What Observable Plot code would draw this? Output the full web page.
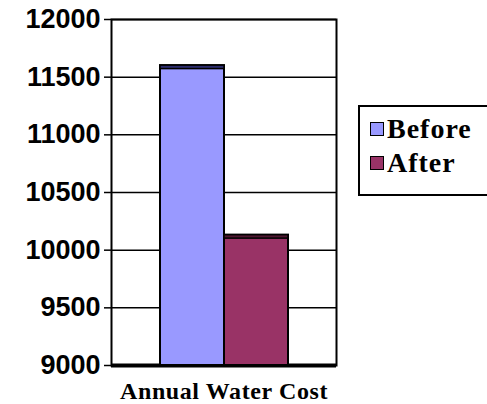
<!DOCTYPE html>
<html>
<head>
<meta charset="utf-8">
<script src="https://cdn.jsdelivr.net/npm/d3@7"></script>
<script src="https://cdn.jsdelivr.net/npm/@observablehq/plot@0.6"></script>
<style>
  html, body { margin: 0; padding: 0; background: #fff; }
  #wrap { position: relative; width: 487px; height: 404px; overflow: hidden; }
  #legend { position: absolute; left: 358px; top: 105px; width: 140px; height: 87px;
    border: 2px solid #000; background: #fff; box-sizing: content-box;
    font-family: "Liberation Serif", "Times New Roman", serif; font-weight: bold; font-size: 28px; letter-spacing: 1px; }
  .item { position: absolute; left: 10px; display: flex; align-items: center; white-space: nowrap; }
  .sw { width: 12px; height: 12px; border: 1.5px solid #000; margin-right: 3px; }
</style>
</head>
<body>
<div id="wrap"><div id="chart"></div><div id="legend"></div></div>
<script>
const category = "Annual Water Cost";
const series = ["Before", "After"];
const values = [11600, 10130];
const colors = ["#9999FF", "#993366"];
const topColors = ["#2c2c6e", "#4e1731"];
const yTicks = [9000, 9500, 10000, 10500, 11000, 11500, 12000];

const data = series.map((s, i) => ({series: s, value: values[i]}));
const yMin = yTicks[0], yMax = yTicks[yTicks.length - 1];
const depth = 30;

const plot = Plot.plot({
  width: 487,
  height: 404,
  marginLeft: 111,
  marginRight: 151,
  marginTop: 19,
  marginBottom: 39,
  style: {fontFamily: "'Liberation Sans', Arial, sans-serif", background: "#fff", color: "#000"},
  x: {domain: series, paddingInner: 0, paddingOuter: 0.744, axis: null},
  y: {domain: [yMin, yMax], axis: null},
  color: {domain: series, range: colors},
  marks: [
    Plot.ruleY(yTicks, {stroke: "#000", strokeWidth: 1.5}),
    Plot.ruleY([yMin], {stroke: "#000", strokeWidth: 4}),
    Plot.ruleY([yMin], {stroke: "#888", strokeWidth: 1}),
    Plot.barY(data, {x: "series", y1: yMin, y2: "value", fill: "series", stroke: "#000", strokeWidth: 2}),
    Plot.barY(data, {x: "series", y1: d => d.value - depth, y2: "value", fill: (d, i) => topColors[i], stroke: "#000", strokeWidth: 1.5}),
    Plot.frame({stroke: "#000", strokeWidth: 2}),
    Plot.axisY({ticks: yTicks, label: null, tickSize: 7, tickPadding: 4, tickFormat: d => String(d),
      fontSize: 27, fontWeight: "bold", stroke: "#000", strokeWidth: 1.5}),
    Plot.text([category], {frameAnchor: "bottom", dy: 33, fontSize: 24, fontWeight: "bold",
      fontFamily: "'Liberation Serif', 'Times New Roman', serif", fill: "#000"})
  ]
});
document.getElementById("chart").appendChild(plot);
plot.querySelectorAll("text").forEach(t => { if (t.textContent === category) t.setAttribute("letter-spacing", "0.6"); });

const legend = document.getElementById("legend");
series.forEach((s, i) => {
  const it = document.createElement("div");
  it.className = "item";
  it.style.top = (i === 0 ? 6 : 40) + "px";
  const sw = document.createElement("div");
  sw.className = "sw";
  sw.style.background = colors[i];
  const t = document.createElement("span");
  t.textContent = s;
  it.appendChild(sw);
  it.appendChild(t);
  legend.appendChild(it);
});
</script>
</body>
</html>
